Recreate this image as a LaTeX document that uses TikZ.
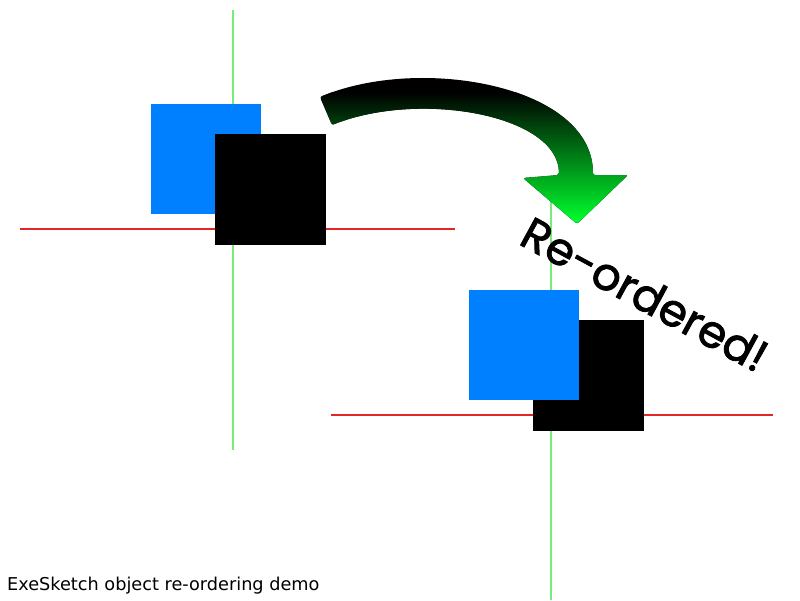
\documentclass[tikz,border=0pt]{standalone}
\usepackage{fontspec}
\newfontfamily\labelfont{DejaVu Sans}
\newfontfamily\handfont[FakeBold=1.8]{Poppins}
\definecolor{axisgreen}{RGB}{120,235,120}
\definecolor{axisred}{RGB}{225,40,40}
\definecolor{boxblue}{RGB}{0,128,255}
\definecolor{arrowgreen}{RGB}{0,255,45}
\begin{document}
\begin{tikzpicture}[x=1pt,y=-1pt,
  vline/.style={draw=axisgreen,line width=1.3pt},
  hline/.style={draw=axisred,line width=1.2pt},
  bluebox/.style={fill=boxblue},
  blackbox/.style={fill=black}]
\useasboundingbox (0,0) rectangle (800,600);
% left scene
\draw[vline] (233,10) -- (233,450);
\draw[hline] (20,229) -- (455,229);
\fill[bluebox] (151,104) rectangle (261,214);
\fill[blackbox] (215,134) rectangle (326,245);
% right scene
\draw[vline] (551,200) -- (551,600);
\draw[hline] (331,415) -- (773,415);
\fill[blackbox] (533,320) rectangle (644,431);
\fill[bluebox] (469,290) rectangle (579,400);
% arrow
\begin{scope}
\clip[rounded corners=2pt] (320,97) .. controls (420,55) and (593,85) .. (593,175)
  -- (628,175) -- (577,224) -- (523,178) -- (559,175)
  .. controls (559,115) and (420,90) .. (332,125) -- cycle;
\fill[black] (300,40) rectangle (650,240);
\shade[top color=black,bottom color=arrowgreen] (300,92) rectangle (650,222);
\end{scope}
% texts
\node[rotate=-28.5,font=\handfont\fontsize{45}{54}\selectfont,inner sep=0pt] (reordered) at (645,294) {Re-ordered!};
\node[anchor=base west,font=\labelfont\fontsize{17.7}{21}\selectfont,inner sep=0pt] (caption) at (7,590) {ExeSketch object re-ordering demo};
\end{tikzpicture}
\end{document}
